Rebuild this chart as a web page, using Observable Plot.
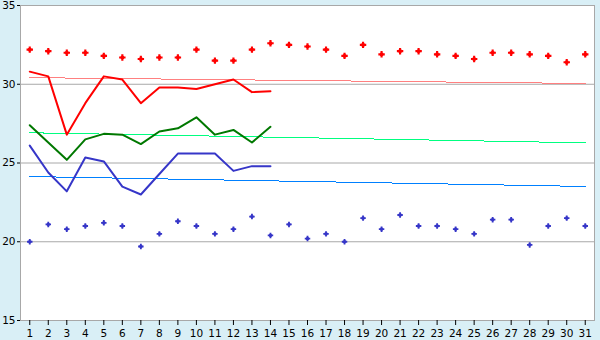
<!DOCTYPE html>
<html><head><meta charset="utf-8">
<script src="https://cdn.jsdelivr.net/npm/d3@7"></script>
<script src="https://cdn.jsdelivr.net/npm/@observablehq/plot@0.6"></script>
<style>
html,body{margin:0;padding:0;background:#d9eff6;}
#chart svg{display:block;}
</style></head><body><div id="chart"></div>
<script>
const days = [1,2,3,4,5,6,7,8,9,10,11,12,13,14,15,16,17,18,19,20,21,22,23,24,25,26,27,28,29,30,31];
const maxPoints = [32.2,32.1,32.0,32.0,31.8,31.7,31.6,31.7,31.7,32.2,31.5,31.5,32.2,32.6,32.5,32.4,32.2,31.8,32.5,31.9,32.1,32.1,31.9,31.8,31.6,32.0,32.0,31.9,31.8,31.4,31.9];
const minPoints = [20.0,21.1,20.8,21.0,21.2,21.0,19.7,20.5,21.3,21.0,20.5,20.8,21.6,20.4,21.1,20.2,20.5,20.0,21.5,20.8,21.7,21.0,21.0,20.8,20.5,21.4,21.4,19.8,21.0,21.5,21.0];
const redLine = [30.8,30.5,26.8,28.8,30.5,30.3,28.8,29.8,29.8,29.7,30.0,30.3,29.5,29.55];
const greenLine = [27.4,26.3,25.2,26.5,26.85,26.8,26.2,27.0,27.2,27.9,26.8,27.1,26.3,27.3];
const blueLine = [26.1,24.4,23.2,25.35,25.1,23.5,23.0,24.3,25.6,25.6,25.6,24.5,24.8,24.8];
const trendRed = [30.42, 30.05];
const trendGreen = [26.92, 26.28];
const trendBlue = [24.14, 23.51];
const yTicks = [15,20,25,30,35];
const gridValues = [20,25,30];

const pts = (arr) => arr.map((v,i)=>({day: days[i], v}));
const trend = (arr) => [{day: days[0], v: arr[0]}, {day: days[days.length-1], v: arr[1]}];

const chart = Plot.plot({
  width: 600, height: 340,
  marginLeft: 20, marginRight: 6, marginTop: 5, marginBottom: 20,
  style: {background: "#d9eff6", fontFamily: "DejaVu Sans", fontSize: "10.5px", color: "#000"},
  x: {type: "linear", domain: [days[0] - 0.5, days[days.length - 1] + 0.5]},
  y: {domain: [15, 35]},
  marks: [
    Plot.frame({fill: "white", stroke: "none"}),
    Plot.ruleY(gridValues, {stroke: "#a8a8a8", strokeWidth: 1}),
    Plot.frame({stroke: "#a8a8a8", fill: "none"}),
    Plot.line(trend(trendRed), {x: "day", y: "v", stroke: "#ff8080", strokeWidth: 1, shapeRendering: "crispEdges"}),
    Plot.line(trend(trendGreen), {x: "day", y: "v", stroke: "#00ff80", strokeWidth: 1, shapeRendering: "crispEdges"}),
    Plot.line(trend(trendBlue), {x: "day", y: "v", stroke: "#0080ff", strokeWidth: 1, shapeRendering: "crispEdges"}),
    Plot.line(pts(redLine), {x: "day", y: "v", stroke: "#ff0000", strokeWidth: 2}),
    Plot.line(pts(greenLine), {x: "day", y: "v", stroke: "#007800", strokeWidth: 2}),
    Plot.line(pts(blueLine), {x: "day", y: "v", stroke: "#3636c8", strokeWidth: 2}),
    Plot.dot(pts(maxPoints), {x: "day", y: "v", symbol: "cross", r: 2.7, fill: "#ff0000", stroke: "none"}),
    Plot.dot(pts(maxPoints), {x: "day", y: "v", symbol: "square", r: 1.8, fill: "#ff0000", stroke: "none"}),
    Plot.dot(pts(minPoints), {x: "day", y: "v", symbol: "cross", r: 2.3, fill: "#3636c8", stroke: "none"}),
    Plot.dot(pts(minPoints), {x: "day", y: "v", symbol: "square", r: 1.6, fill: "#3636c8", stroke: "none"}),
    Plot.axisX({ticks: days, tickFormat: d => String(d), tickSize: 5, tickPadding: 4, label: null, stroke: "#000"}),
    Plot.axisY({ticks: yTicks, tickSize: 3, tickPadding: 2, label: null, stroke: "#000"})
  ]
});
document.getElementById("chart").appendChild(chart);
</script>
</body></html>
